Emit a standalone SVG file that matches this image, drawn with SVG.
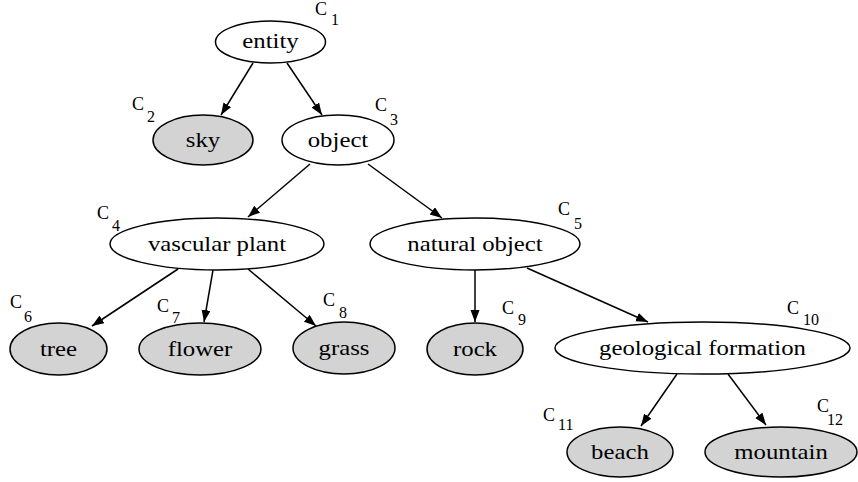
<svg xmlns="http://www.w3.org/2000/svg" width="858" height="482" viewBox="0 0 858 482">
<style>
.n{fill:#fff;stroke:#000;stroke-width:1.5}
.g{fill:#d3d3d3;stroke:#000;stroke-width:1.5}
text{font-family:'Liberation Serif','Times New Roman',serif;fill:#000}
.t{font-size:21px;text-anchor:middle}
.c{font-size:18px}
.s{font-size:16px}
.e{stroke:#000;stroke-width:1.5;fill:none;marker-end:url(#ah)}
</style>
<defs>
<marker id="ah" markerUnits="userSpaceOnUse" markerWidth="13" markerHeight="10" refX="12" refY="4.5" orient="auto">
<path d="M0,0 L12,4.5 L0,9 z" fill="#000"/>
</marker>
</defs>
<g id="connectors">
<line class="e" x1="253" y1="63" x2="221" y2="115"/>
<line class="e" x1="287" y1="63" x2="322" y2="115"/>
<line class="e" x1="310" y1="164" x2="248" y2="217"/>
<line class="e" x1="368" y1="164" x2="442" y2="218"/>
<line class="e" x1="178" y1="269" x2="92" y2="326"/>
<line class="e" x1="213" y1="270" x2="204" y2="322"/>
<line class="e" x1="248" y1="269" x2="316" y2="326"/>
<line class="e" x1="475" y1="270" x2="475" y2="322"/>
<line class="e" x1="527" y1="268" x2="648" y2="322"/>
<line class="e" x1="677" y1="374" x2="641" y2="426"/>
<line class="e" x1="728" y1="374" x2="766" y2="425"/>
</g>
<g id="entity"><ellipse class="n" cx="270.5" cy="42" rx="55" ry="21"/><text class="t" transform="translate(270.5,48) scale(1.18,1)">entity</text><text class="c" x="315" y="15">C</text><text class="s" x="331" y="25">1</text></g>
<g id="sky"><ellipse class="g" cx="203" cy="140" rx="50" ry="25"/><text class="t" transform="translate(203,147) scale(1.18,1)">sky</text><text class="c" x="132" y="110">C</text><text class="s" x="147" y="122">2</text></g>
<g id="object"><ellipse class="n" cx="338" cy="140" rx="56" ry="25"/><text class="t" transform="translate(338,147) scale(1.18,1)">object</text><text class="c" x="375" y="111">C</text><text class="s" x="390" y="125">3</text></g>
<g id="vascular-plant"><ellipse class="n" cx="217" cy="244" rx="107" ry="26"/><text class="t" transform="translate(217,251) scale(1.18,1)">vascular plant</text><text class="c" x="97" y="219">C</text><text class="s" x="112" y="231">4</text></g>
<g id="natural-object"><ellipse class="n" cx="475" cy="244" rx="105" ry="26"/><text class="t" transform="translate(475,251) scale(1.18,1)">natural object</text><text class="c" x="558" y="215">C</text><text class="s" x="574" y="229">5</text></g>
<g id="tree"><ellipse class="g" cx="58.5" cy="349" rx="48.5" ry="26"/><text class="t" transform="translate(58.5,356) scale(1.18,1)">tree</text><text class="c" x="10" y="308">C</text><text class="s" x="24" y="322">6</text></g>
<g id="flower"><ellipse class="g" cx="200" cy="349" rx="61" ry="26"/><text class="t" transform="translate(200,356) scale(1.18,1)">flower</text><text class="c" x="157" y="312">C</text><text class="s" x="172" y="323">7</text></g>
<g id="grass"><ellipse class="g" cx="344" cy="348" rx="51" ry="26"/><text class="t" transform="translate(344,355) scale(1.18,1)">grass</text><text class="c" x="323" y="306">C</text><text class="s" x="339" y="318">8</text></g>
<g id="rock"><ellipse class="g" cx="475" cy="349" rx="48" ry="26"/><text class="t" transform="translate(475,356) scale(1.18,1)">rock</text><text class="c" x="502" y="314">C</text><text class="s" x="518" y="325">9</text></g>
<g id="geological-formation"><ellipse class="n" cx="702.5" cy="348" rx="147.5" ry="26"/><text class="t" transform="translate(702.5,355) scale(1.18,1)">geological formation</text><text class="c" x="787" y="314">C</text><text class="s" x="803" y="325">10</text></g>
<g id="beach"><ellipse class="g" cx="620" cy="452" rx="53" ry="25"/><text class="t" transform="translate(620,459) scale(1.18,1)">beach</text><text class="c" x="543" y="421">C</text><text class="s" x="558" y="430">11</text></g>
<g id="mountain"><ellipse class="g" cx="781" cy="452" rx="76" ry="25"/><text class="t" transform="translate(781,459) scale(1.18,1)">mountain</text><text class="c" x="817" y="412">C</text><text class="s" x="827" y="425">12</text></g>
</svg>
